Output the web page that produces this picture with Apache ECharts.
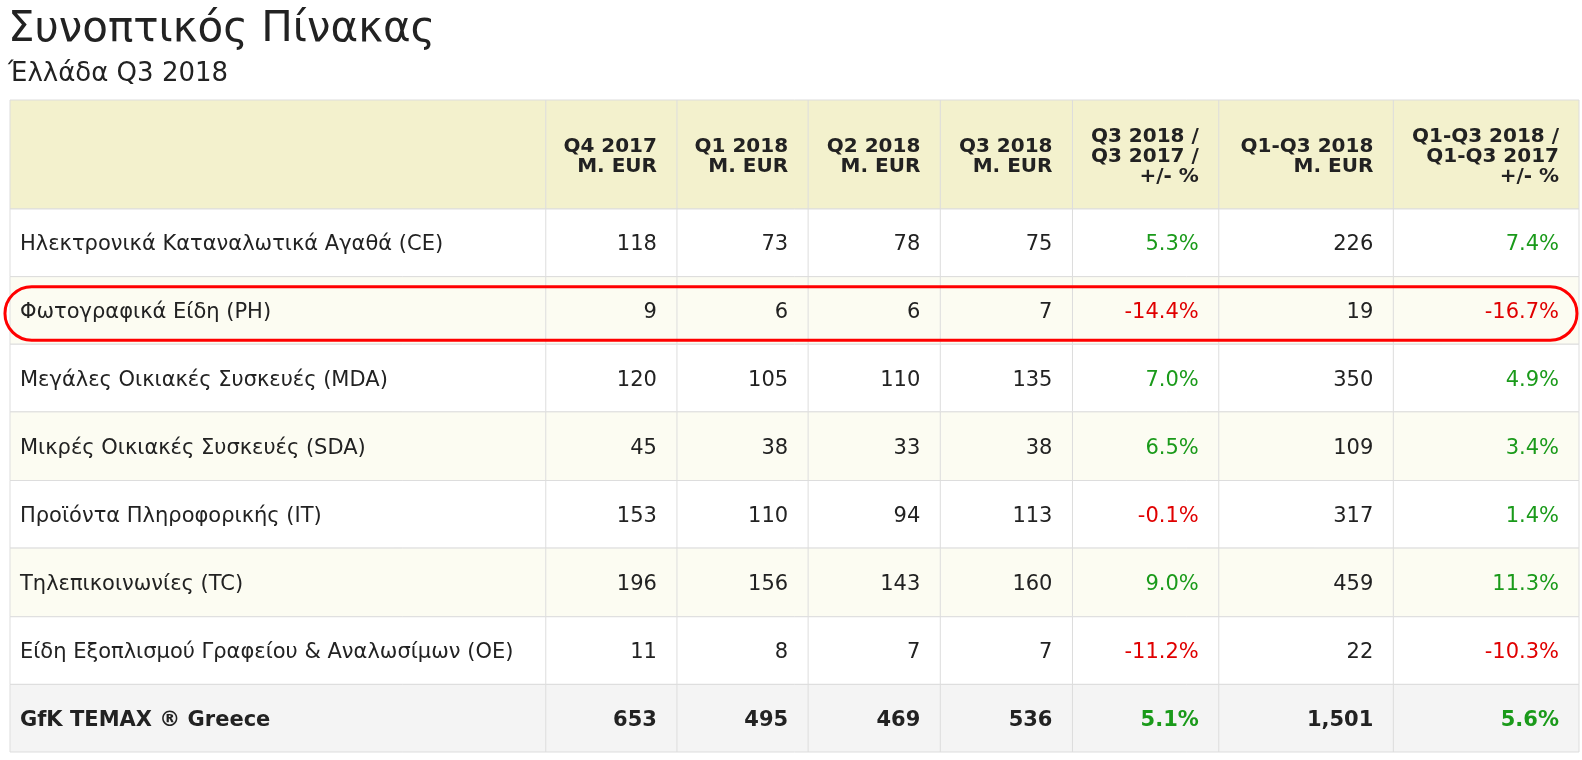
<!DOCTYPE html>
<html>
<head>
<meta charset="UTF-8">
<title>Συνοπτικός Πίνακας</title>
<script src="https://cdn.jsdelivr.net/npm/echarts@6/dist/echarts.min.js"></script>
<style>
  html, body { margin: 0; padding: 0; background: #fff; }
  #main { width: 1582px; height: 760px; }
</style>
</head>
<body>
<div id="main"></div>
<script>
var headers = ['', 'Q4 2017\nM. EUR', 'Q1 2018\nM. EUR', 'Q2 2018\nM. EUR', 'Q3 2018\nM. EUR',
  'Q3 2018 /\nQ3 2017 /\n+/- %', 'Q1-Q3 2018\nM. EUR', 'Q1-Q3 2018 /\nQ1-Q3 2017\n+/- %'];
var categories = ['Ηλεκτρονικά Καταναλωτικά Αγαθά (CE)', 'Φωτογραφικά Είδη (PH)',
  'Μεγάλες Οικιακές Συσκευές (MDA)', 'Μικρές Οικιακές Συσκευές (SDA)',
  'Προϊόντα Πληροφορικής (IT)', 'Τηλεπικοινωνίες (TC)',
  'Είδη Εξοπλισμού Γραφείου & Αναλωσίμων (OE)', 'GfK TEMAX ® Greece'];
var q42017 = ['118', '9', '120', '45', '153', '196', '11', '653'];
var q12018 = ['73', '6', '105', '38', '110', '156', '8', '495'];
var q22018 = ['78', '6', '110', '33', '94', '143', '7', '469'];
var q32018 = ['75', '7', '135', '38', '113', '160', '7', '536'];
var q3Change = [5.3, -14.4, 7.0, 6.5, -0.1, 9.0, -11.2, 5.1];
var ytd2018 = ['226', '19', '350', '109', '317', '459', '22', '1,501'];
var ytdChange = [7.4, -16.7, 4.9, 3.4, 1.4, 11.3, -10.3, 5.6];
var highlightRow = 1;

// layout (table units = pixels)
var colEdges = [0, 531, 661, 791, 922, 1053, 1198, 1371, 1555];
var rowEdges = [0, 108, 175, 242, 309, 377, 444, 512, 579, 646];

function pct(v) { return v.toFixed(1) + '%'; }

var rows = [];
for (var i = 0; i < categories.length; i++) {
  rows.push([i + 1, categories[i], q42017[i], q12018[i], q22018[i], q32018[i],
    q3Change[i], ytd2018[i], ytdChange[i]]);
}
var data = [[0].concat(headers)].concat(rows);

function renderItem(params, api) {
  var r = params.dataIndex;
  var item = data[r];
  var isHeader = r === 0, isTotal = r === data.length - 1;
  var bg = isHeader ? '#f3f1cd' : isTotal ? '#f4f4f4' : (r % 2 === 0 ? '#fcfcf2' : '#ffffff');
  var top = api.coord([0, rowEdges[r]]);
  var bot = api.coord([colEdges[8], rowEdges[r + 1]]);
  var children = [{
    type: 'rect', shape: { x: top[0], y: top[1], width: bot[0] - top[0], height: bot[1] - top[1] },
    style: { fill: bg, stroke: '#dddddd', lineWidth: 1 }
  }];
  for (var c = 0; c < 8; c++) {
    var p0 = api.coord([colEdges[c], rowEdges[r]]);
    var p1 = api.coord([colEdges[c + 1], rowEdges[r + 1]]);
    if (c > 0) {
      children.push({ type: 'line', shape: { x1: p0[0], y1: p0[1], x2: p0[0], y2: p1[1] },
        style: { stroke: '#dddddd', lineWidth: 1 } });
    }
    var val = item[c + 1];
    var color = '#222';
    if (!isHeader && (c === 5 || c === 7)) {
      color = val < 0 ? '#e00000' : '#1a9a1a';
      val = pct(val);
    }
    var left = c === 0;
    children.push({
      type: 'text',
      style: {
        text: String(val),
        x: left ? p0[0] + 10 : p1[0] - 20,
        y: (p0[1] + p1[1]) / 2 + 2,
        textAlign: left ? 'left' : 'right',
        textVerticalAlign: 'middle',
        fill: color,
        font: ((isHeader || isTotal) ? 'bold ' : '') + (isHeader ? '20px' : '21px') + ' "DejaVu Sans"',
        lineHeight: 20
      }
    });
  }
  if (r === highlightRow + 1) {
    var a = api.coord([-5, rowEdges[r] + 10]);
    var b = api.coord([colEdges[8] - 2, rowEdges[r + 1] - 4]);
    children.push({
      type: 'rect', z2: 10,
      shape: { x: a[0], y: a[1], width: b[0] - a[0], height: b[1] - a[1], r: 27 },
      style: { fill: 'none', stroke: '#ff0000', lineWidth: 3 }
    });
  }
  return { type: 'group', children: children };
}

var chart = echarts.init(document.getElementById('main'));
chart.setOption({
  animation: false,
  title: {
    text: 'Συνοπτικός Πίνακας', subtext: 'Έλλάδα Q3 2018',
    left: 3, top: 4, itemGap: 10,
    textStyle: { fontFamily: 'DejaVu Sans', fontSize: 42, fontWeight: 'normal', color: '#222' },
    subtextStyle: { fontFamily: 'DejaVu Sans', fontSize: 26, color: '#222' }
  },
  grid: { left: 10, top: 100, width: 1569, height: 652 },
  xAxis: { type: 'value', min: 0, max: 1555, show: false },
  yAxis: { type: 'value', min: 0, max: 646, inverse: true, show: false },
  series: [{
    type: 'custom', renderItem: renderItem, clip: false,
    data: data.map(function (d, i) { return [i]; })
  }]
});
</script>
</body>
</html>
